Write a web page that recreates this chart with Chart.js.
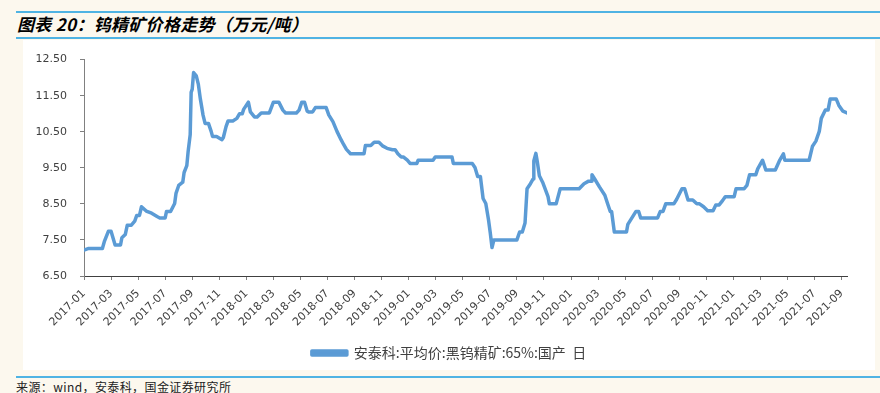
<!DOCTYPE html>
<html>
<head>
<meta charset="utf-8">
<script src="https://cdn.jsdelivr.net/npm/chart.js@4.4.1/dist/chart.umd.min.js"></script>
<style>
  body { margin: 0; width: 880px; height: 393px; background: #fcf8ee; position: relative; overflow: hidden; }
  .rule { position: absolute; left: 16px; right: 0; height: 2px; background: #4fb3e3; }
  #title { position: absolute; left: 17px; top: 13px; font: italic bold 17px "Noto Sans CJK SC", sans-serif; letter-spacing: 0.3px; color: #000; white-space: nowrap; line-height: 22px; }
  #panel { position: absolute; left: 23px; top: 40px; width: 852px; height: 330px; background: #fff; }
  #source { position: absolute; left: 16px; top: 378px; font: 12px "Noto Sans CJK SC", sans-serif; letter-spacing: 0.4px; color: #222; white-space: nowrap; }
</style>
</head>
<body>
<div class="rule" style="top:11px"></div>
<div id="title">图表 20：钨精矿价格走势（万元/吨）</div>
<div class="rule" style="top:37px"></div>
<div id="panel"><canvas id="grafico" width="852" height="330"></canvas></div>
<div class="rule" style="top:376px"></div>
<div id="source">来源：wind，安泰科，国金证券研究所</div>
<script>
// Mesi dal 2017-01 (0 = inizio gennaio 2017) e prezzo (万元/吨)
const mesi = [
  0, 0.3, 1.36, 1.5, 1.8, 2.0, 2.3, 2.7, 2.8, 3.05, 3.2, 3.5, 3.75, 3.9, 4.1, 4.25, 4.6, 5.0, 5.4, 5.6,
  6.0, 6.1, 6.4, 6.7, 6.8, 7.0, 7.3, 7.4, 7.6, 7.7, 7.85, 7.92, 8.0, 8.1, 8.3, 8.45, 8.6, 8.7, 8.8, 8.95,
  9.2, 9.4, 9.5, 9.8, 10.2, 10.3, 10.5, 10.65, 11.0, 11.3, 11.5, 11.7, 11.8, 12.15, 12.3, 12.6, 12.8, 13.1, 13.7, 14.0,
  14.4, 14.7, 14.9, 15.7, 15.9, 16.1, 16.3, 16.5, 16.6, 16.9, 17.1, 17.9, 18.1, 18.4, 18.7, 19.0, 19.2, 19.4, 19.7, 20.7,
  20.8, 21.2, 21.45, 21.8, 22.1, 22.4, 22.8, 23.0, 23.2, 23.45, 23.6, 23.9, 24.1, 24.6, 24.7, 25.8, 25.96, 27.2, 27.3, 28.7,
  28.9, 29.1, 29.3, 29.5, 29.7, 29.9, 30.03, 30.16, 30.3, 32.0, 32.2, 32.4, 32.6, 32.75, 33.0, 33.2, 33.25, 33.4, 33.5, 33.66,
  33.9, 34.3, 34.4, 34.9, 35.2, 36.6, 36.96, 37.3, 37.5, 37.55, 37.75, 38.1, 38.5, 38.7, 38.9, 39.0, 39.2, 40.1, 40.2, 40.5,
  40.8, 41.0, 41.15, 42.4, 42.6, 42.8, 43.0, 43.6, 43.8, 44.2, 44.4, 44.65, 45.0, 45.3, 45.5, 45.8, 46.1, 46.5, 46.7, 46.95,
  47.2, 47.4, 48.06, 48.2, 48.8, 49.0, 49.2, 49.66, 49.8, 50.16, 50.4, 51.1, 51.4, 51.7, 51.8, 53.6, 53.85, 54.1, 54.35, 54.5,
  54.8, 55.0, 55.16, 55.6, 55.8, 56.1, 56.4
];
const prezzi = [
  7.22, 7.26, 7.26, 7.45, 7.74, 7.74, 7.36, 7.36, 7.56, 7.65, 7.91, 7.91, 8.02, 8.18, 8.18, 8.42, 8.30, 8.24, 8.15, 8.11,
  8.11, 8.29, 8.29, 8.51, 8.79, 9.01, 9.10, 9.37, 9.56, 9.96, 10.42, 11.59, 11.68, 12.14, 12.05, 11.82, 11.41, 11.19, 10.96, 10.73,
  10.73, 10.51, 10.37, 10.37, 10.28, 10.34, 10.64, 10.80, 10.80, 10.87, 11.00, 11.00, 11.12, 11.32, 11.05, 10.91, 10.91, 11.02, 11.02, 11.32,
  11.32, 11.10, 11.02, 11.02, 11.10, 11.32, 11.32, 11.07, 11.05, 11.05, 11.17, 11.17, 10.96, 10.78, 10.51, 10.28, 10.14, 10.01, 9.89, 9.89,
  10.12, 10.12, 10.21, 10.21, 10.10, 10.04, 10.00, 10.00, 9.89, 9.80, 9.80, 9.71, 9.62, 9.62, 9.71, 9.71, 9.80, 9.80, 9.62, 9.62,
  9.51, 9.26, 9.26, 8.65, 8.51, 8.06, 7.70, 7.29, 7.50, 7.50, 7.72, 7.72, 7.97, 8.92, 9.06, 9.19, 9.69, 9.90, 9.69, 9.28,
  9.10, 8.70, 8.50, 8.50, 8.92, 8.92, 9.06, 9.13, 9.13, 9.31, 9.19, 8.97, 8.74, 8.51, 8.29, 8.29, 7.72, 7.72, 7.93, 8.11,
  8.29, 8.29, 8.11, 8.11, 8.29, 8.29, 8.50, 8.50, 8.62, 8.92, 8.92, 8.61, 8.61, 8.50, 8.50, 8.42, 8.31, 8.31, 8.47, 8.47,
  8.59, 8.70, 8.70, 8.92, 8.92, 9.01, 9.31, 9.31, 9.47, 9.71, 9.44, 9.44, 9.69, 9.89, 9.71, 9.71, 10.10, 10.24, 10.51, 10.87,
  11.10, 11.10, 11.41, 11.41, 11.23, 11.07, 11.02
];
// Tacche dell'asse X: ogni due mesi, da 2017-01 a 2021-09
const tacche = [];
for (let m = 0; m <= 56; m += 2) tacche.push(m);
const etichettaSerie = '安泰科:平均价:黑钨精矿:65%:国产  日';

function etichettaMese(v) {
    const anno = 2017 + Math.floor(v / 12);
    const mese = (v % 12) + 1;
    return anno + '-' + String(mese).padStart(2, '0');
}

const punti = mesi.map((m, i) => ({ x: m, y: prezzi[i] }));

new Chart(document.getElementById('grafico').getContext('2d'), {
    type: 'line',
    data: {
        datasets: [{
            label: etichettaSerie,
            data: punti,
            borderColor: '#5b9bd5',
            backgroundColor: '#5b9bd5',
            borderWidth: 3.5,
            pointRadius: 0,
            tension: 0,
            fill: false,
            borderJoinStyle: 'round',
            borderCapStyle: 'round'
        }]
    },
    options: {
        responsive: false,
        animation: false,
        layout: { padding: { top: 17, right: 0, left: 0, bottom: 0 } },
        scales: {
            x: {
                type: 'linear',
                min: 0,
                max: 56.4,
                afterBuildTicks: scale => { scale.ticks = tacche.map(v => ({ value: v })); },
                afterFit: scale => { scale.height = 60; },
                grid: { display: true, drawOnChartArea: false, drawTicks: true, tickLength: 4, color: '#808080' },
                border: { display: true, color: '#404040', width: 1 },
                ticks: {
                    autoSkip: false,
                    maxRotation: 45,
                    minRotation: 45,
                    padding: 7,
                    color: '#404040',
                    font: { family: 'DejaVu Sans', size: 11 },
                    callback: v => etichettaMese(v)
                }
            },
            y: {
                min: 6.5,
                max: 12.5,
                afterFit: scale => { scale.width = 61; },
                grid: { display: true, drawOnChartArea: false, drawTicks: true, tickLength: 4, color: '#808080' },
                border: { display: true, color: '#808080', width: 1 },
                ticks: {
                    stepSize: 1,
                    padding: 13,
                    color: '#404040',
                    font: { family: 'DejaVu Sans', size: 11 },
                    callback: v => Number(v).toFixed(2)
                }
            },
            // asse vuoto a destra: solo spazio, così la legenda resta centrata nel pannello
            destra: {
                position: 'right',
                afterFit: scale => { scale.width = 28; },
                grid: { display: false },
                border: { display: false },
                ticks: { display: false }
            }
        },
        plugins: {
            legend: {
                display: true,
                position: 'bottom',
                labels: {
                    boxWidth: 35,
                    boxHeight: 4,
                    padding: 10,
                    color: '#404040',
                    font: { family: 'Noto Sans CJK SC', size: 14 }
                }
            },
            tooltip: { enabled: false }
        }
    }
});
</script>
</body>
</html>
